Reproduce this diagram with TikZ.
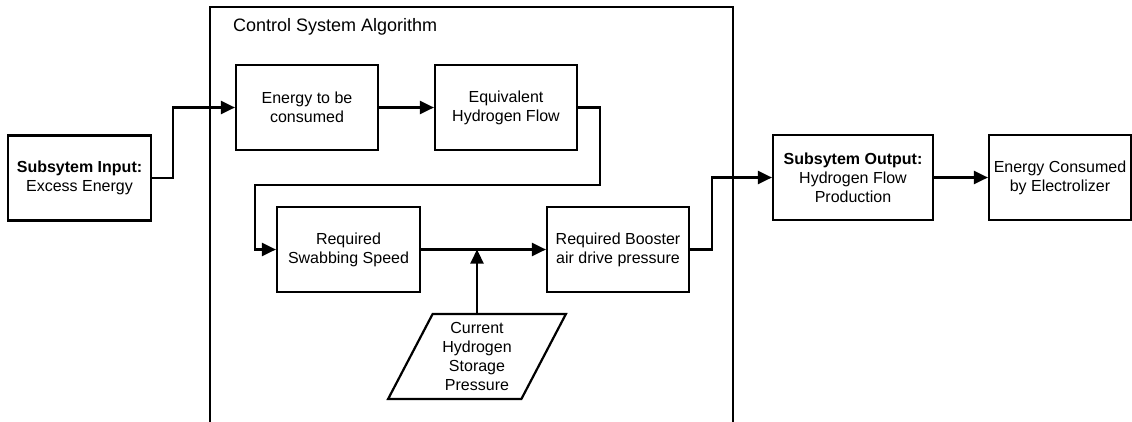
\documentclass[tikz,border=0pt]{standalone}
\usepackage{fontspec}
\setmainfont{Liberation Sans}
\usetikzlibrary{arrows.meta,shapes.geometric}

\tikzset{
    block/.style={draw, line width=2.2pt, align=center, minimum height=85pt, inner sep=2pt},
    arr/.style={line width=2.2pt, -{Triangle[length=14pt,width=13pt]}},
    link/.style={line width=2.2pt}
}

\begin{document}
\begin{tikzpicture}[x=1pt, y=-1pt, font=\fontsize{16}{19}\selectfont]
    \useasboundingbox (0,0) rectangle (1132,421);
    % Algorithm frame
    \draw[link] (210,425) |- (733,7) -- (733,425);
    \node[anchor=base west, inner sep=0pt, font=\fontsize{18}{21}\selectfont] (title) at (233,31) {Control System Algorithm};

    % Blocks
    \node[block, minimum width=143pt] (inp) at (79.5,178) {\textbf{Subsytem Input:}\\Excess Energy};
    \node[block, minimum width=142pt] (ener) at (307,107.5) {Energy to be\\consumed};
    \node[block, minimum width=142pt] (equiv) at (506,107.5) {Equivalent\\Hydrogen Flow};
    \node[block, minimum width=143pt] (swab) at (348.5,249.5) {Required\\Swabbing Speed};
    \node[block, minimum width=142pt] (boost) at (618,249.5) {Required Booster\\air drive pressure};
    \node[block, minimum width=160pt] (out) at (853,177.5) {\textbf{Subsytem Output:}\\Hydrogen Flow\\Production};
    \node[block, minimum width=142pt] (elec) at (1060,177.5) {Energy Consumed\\by Electrolizer};
    \node[draw, line width=2.2pt, align=center, trapezium, trapezium left angle=63, trapezium right angle=117,
          trapezium stretches=true, minimum width=178pt, minimum height=85pt, inner sep=0pt] (press) at (477,356.5)
          {Current\\Hydrogen\\Storage\\Pressure};
    \coordinate (bend) at (255,185);

    % Connectors
    \draw[arr] (inp.east) -- ++(21,0) |- (ener.west);
    \draw[arr] (ener) -- (equiv);
    \draw[arr] (equiv.east) -- ++(22,0) |- (bend) |- (swab.west);
    \draw[arr] (swab) -- (boost);
    \draw[arr] (press.north) -- (press.north |- swab.east);
    \draw[arr] (boost.east) -- ++(22,0) |- (out.west);
    \draw[arr] (out) -- (elec);
\end{tikzpicture}
\end{document}
